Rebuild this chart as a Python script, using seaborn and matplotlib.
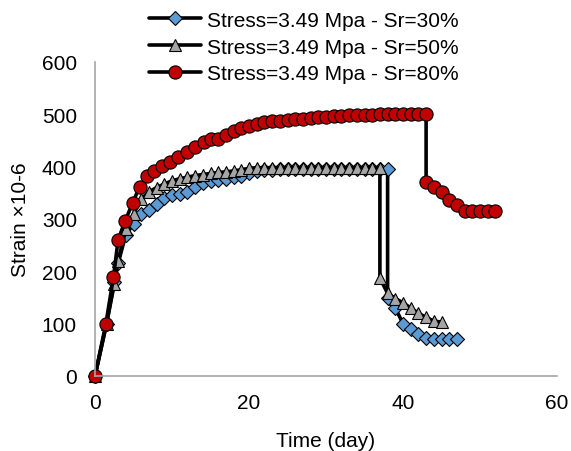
import pandas as pd
import matplotlib
matplotlib.use("Agg")
import matplotlib.pyplot as plt
import seaborn as sns

# --- data ---
days_30 = [0, 1.5, 2.5, 3, 4, 5, 6, 7, 8, 9, 10, 11, 12, 13, 14, 15, 16, 17, 18, 19, 20,
           21, 22, 23, 24, 25, 26, 27, 28, 29, 30, 31, 32, 33, 34, 35, 36, 37, 38,
           38, 39, 40, 41, 42, 43, 44, 45, 46, 47]
strain_30 = [0, 100, 180, 215, 270, 290, 310, 318, 328, 340, 345, 348, 352, 362, 368, 372, 375, 377, 380, 383, 388,
             391, 393, 394, 395, 395, 395, 395, 395, 395, 395, 395, 395, 395, 395, 395, 395, 395, 395,
             150, 130, 100, 90, 80, 72, 70, 70, 70, 70]

days_50 = [0, 1.5, 2.5, 3, 4, 5, 6, 7, 8, 9, 10, 11, 12, 13, 14, 15, 16, 17, 18, 19, 20,
           21, 22, 23, 24, 25, 26, 27, 28, 29, 30, 31, 32, 33, 34, 35, 36, 37,
           37, 38, 39, 40, 41, 42, 43, 44, 45]
strain_50 = [0, 100, 175, 220, 280, 310, 338, 352, 360, 367, 373, 377, 380, 383, 385, 387, 389, 390, 392, 394, 397,
             398, 398, 398, 398, 398, 398, 398, 398, 398, 398, 398, 398, 398, 398, 398, 398, 398,
             187, 158, 148, 140, 130, 120, 112, 105, 103]

days_80 = [0, 1.4, 2.4, 3, 3.9, 4.9, 5.8, 6.8, 7.7, 8.7, 9.7, 10.8, 11.9, 13, 14.1, 15, 16, 17, 18, 19, 20,
           21, 22, 23, 24, 25, 26, 27, 28, 29, 30, 31, 32, 33, 34, 35, 36, 37, 38, 39, 40, 41, 42, 43,
           43, 44, 45, 46, 47, 48, 49, 50, 51, 52]
strain_80 = [0, 99, 189, 260, 296, 331, 362, 382, 391, 401, 408, 418, 428, 437, 447, 453, 453, 461, 469, 474, 478,
             482, 485, 487, 488, 490, 491, 492, 493, 494, 495, 496, 497, 498, 498, 499, 499, 500, 500, 500, 500, 500, 500, 500,
             371, 362, 352, 337, 327, 316, 315, 315, 315, 315]

labels = ["Stress=3.49 Mpa - Sr=30%", "Stress=3.49 Mpa - Sr=50%", "Stress=3.49 Mpa - Sr=80%"]

sns.set_theme(style="white")
plt.rcParams['font.family'] = ['Liberation Sans', 'DejaVu Sans']
plt.rcParams['text.color'] = 'black'

fig, ax = plt.subplots(figsize=(5.71, 4.52), dpi=100)
fig.subplots_adjust(left=95/571, right=557/571, bottom=75/452, top=389/452)

series = [
    (days_30, strain_30, labels[0], "D", "#5B9BD5", 7),
    (days_50, strain_50, labels[1], "^", "#A5A5A5", 9),
    (days_80, strain_80, labels[2], "o", "#C00000", 9.5),
]
for d, s, lab, mk, col, ms in series:
    df = pd.DataFrame({"day": d, "strain": s})
    sns.lineplot(data=df, x="day", y="strain", ax=ax, estimator=None, sort=False,
                 color="black", linewidth=2.6, marker=mk, markersize=ms,
                 markerfacecolor=col, markeredgecolor="black", markeredgewidth=0.8,
                 label=lab, clip_on=False)

ax.set_xlim(0, 60)
ax.set_ylim(0, 600)
ax.set_xticks([0, 20, 40, 60])
ax.set_yticks(range(0, 601, 100))
ax.tick_params(axis="both", length=0, labelsize=15, colors="black")
ax.tick_params(axis="x", pad=12)
ax.tick_params(axis="y", pad=13)
for sp in ["top", "right"]:
    ax.spines[sp].set_visible(False)
for sp in ["left", "bottom"]:
    ax.spines[sp].set_color("#A6A6A6")
    ax.spines[sp].set_linewidth(1.2)

ax.set_xlabel("Time (day)", fontsize=15, color="black")
ax.set_ylabel("Strain ×10-6", fontsize=15, color="black")
ax.xaxis.set_label_coords(0.5, -(432 - 377) / 314)
ax.yaxis.set_label_coords(-(95 - 30) / 462, 0.5)

leg = ax.legend(loc="center", bbox_to_anchor=(304/571, 1 - 48/452), bbox_transform=fig.transFigure,
                frameon=False, fontsize=15, handlelength=2.5, labelspacing=0.38,
                handletextpad=0.3, borderpad=0)
for t in leg.get_texts():
    t.set_color("black")

plt.savefig("out.png", dpi=100)
